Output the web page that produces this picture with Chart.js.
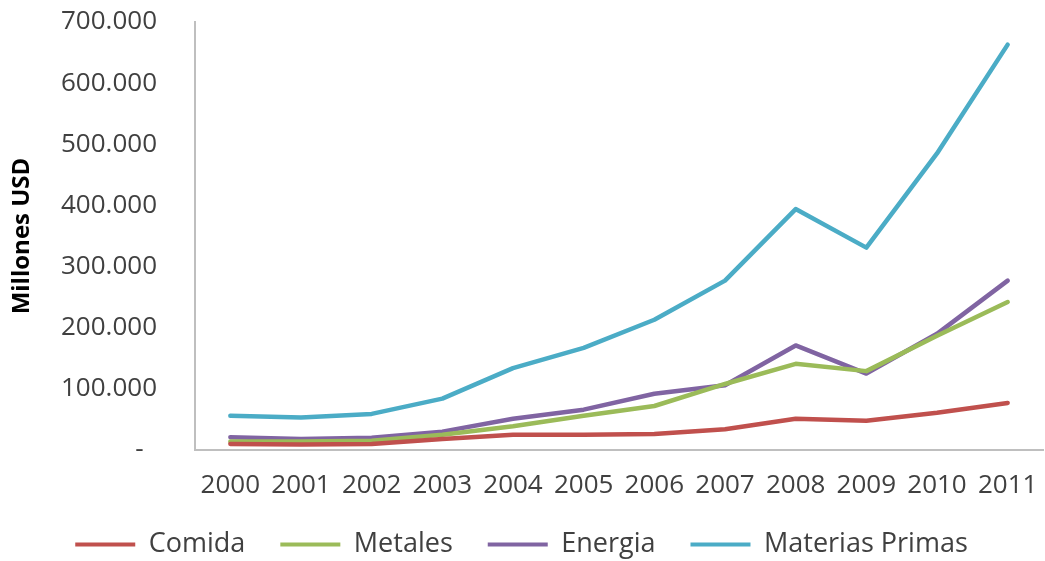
<!DOCTYPE html>
<html>
<head>
<meta charset="utf-8">
<script src="https://cdn.jsdelivr.net/npm/chart.js@4/dist/chart.umd.min.js"></script>
<style>
  html, body { margin: 0; padding: 0; background: #ffffff; }
  #wrap { width: 1045px; height: 561px; position: relative; }
</style>
</head>
<body>
<div id="wrap"><canvas id="chart"></canvas></div>
<script>
// Exportaciones por tipo de producto, millones de USD
const years = ['2000', '2001', '2002', '2003', '2004', '2005', '2006', '2007', '2008', '2009', '2010', '2011'];
const comida   = [10000, 9000, 10000, 18000, 25000, 25000, 26000, 34000, 51000, 48000, 61000, 77000];
const metales  = [14000, 14000, 15000, 25000, 39000, 56000, 72000, 108000, 141000, 129000, 187000, 242000];
const energia  = [21000, 18000, 20000, 30000, 51000, 66000, 92000, 106000, 171000, 125000, 190000, 277000];
const materias = [56000, 53000, 59000, 84000, 134000, 167000, 213000, 277000, 394000, 331000, 485000, 663000];
const seriesNames = ['Comida', 'Metales', 'Energia', 'Materias Primas'];
const yMax = 700000;
const yStep = 100000;

const colors = ['#C0504D', '#9BBB59', '#8064A2', '#4BACC6'];
const FONT = "'Open Sans', 'DejaVu Sans', sans-serif";
const TEXT = '#404040';
const AXIS = '#BFBFBF';

// 700000 -> "700.000", cero -> "-"
function fmt(v) {
  if (v === 0) return '-  ';
  return String(v).replace(/\B(?=(\d{3})+(?!\d))/g, '.');
}

const values = [comida, metales, energia, materias];
const datasets = values.map((d, i) => ({
  label: seriesNames[i],
  data: d,
  borderColor: colors[i],
  backgroundColor: colors[i],
  borderWidth: 4.5,
  borderCapStyle: 'round',
  borderJoinStyle: 'round',
  pointRadius: 0,
  pointHoverRadius: 0,
  tension: 0,
  fill: false
}));

new Chart(document.getElementById('chart'), {
  type: 'line',
  data: { labels: years, datasets },
  options: {
    responsive: true,
    maintainAspectRatio: false,
    animation: false,
    layout: {
      padding: { left: 0, right: 2, top: 0, bottom: -7 }
    },
    plugins: {
      tooltip: { enabled: false },
      legend: {
        position: 'bottom',
        labels: {
          font: { family: FONT, size: 27 },
          color: TEXT,
          boxWidth: 60,
          boxHeight: 4,
          padding: 35,
          generateLabels(chart) {
            return chart.data.datasets.map((ds, i) => ({
              text: ds.label,
              fillStyle: ds.borderColor,
              strokeStyle: ds.borderColor,
              lineWidth: 0,
              hidden: false,
              datasetIndex: i,
              fontColor: TEXT
            }));
          }
        }
      }
    },
    scales: {
      x: {
        offset: true,
        grid: { display: false, drawTicks: false },
        border: { display: true, color: AXIS, width: 2 },
        afterFit(scale) {
          scale.height = 46;
          scale.paddingLeft = 0;
          scale.paddingRight = 0;
        },
        ticks: {
          font: { family: FONT, size: 26 },
          color: TEXT,
          padding: 20,
          maxRotation: 0,
          autoSkip: false
        }
      },
      y: {
        min: 0,
        max: yMax,
        grid: { display: false, drawTicks: false },
        border: { display: true, color: AXIS, width: 2 },
        afterFit(scale) {
          scale.width = 195;
          scale.paddingTop = 22;
          scale.paddingBottom = 0;
        },
        title: {
          display: true,
          text: 'Millones USD',
          font: { family: FONT, size: 24, weight: 'bold' },
          color: '#000000',
          padding: { top: 8, bottom: 0 }
        },
        ticks: {
          stepSize: yStep,
          font: { family: FONT, size: 26 },
          color: TEXT,
          padding: 38,
          callback: (v) => fmt(v)
        }
      }
    }
  }
});
</script>
</body>
</html>
